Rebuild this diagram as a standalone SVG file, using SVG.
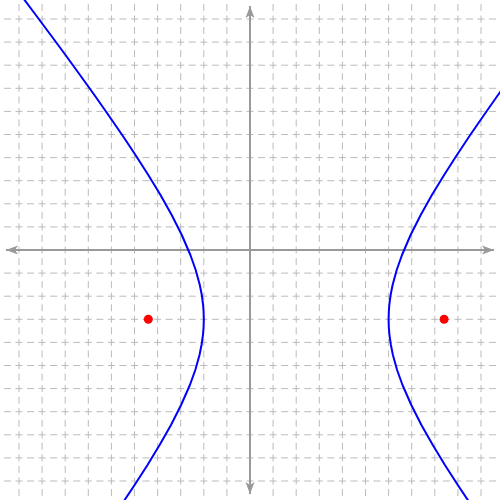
<svg xmlns="http://www.w3.org/2000/svg" width="500" height="500" viewBox="0 0 500 500">
<style>
.grid line{stroke:#bbbbbb;stroke-width:1;stroke-dasharray:7 4.55}
.axis{stroke:#999999;stroke-width:2;fill:none}
.curve{stroke:#0000ff;stroke-width:2;fill:none;stroke-linejoin:round}
.focus{fill:#ff0000}
</style>
<defs>
<marker id="arr" markerUnits="userSpaceOnUse" markerWidth="16" markerHeight="12" viewBox="-13 -6 16 12" refX="0" refY="0" orient="auto">
<path d="M0,0 L-12,-4.5 L-9,0 L-12,4.5 Z" fill="#999999"/>
</marker>
</defs>
<rect width="500" height="500" fill="#ffffff"/>
<g class="grid" id="grid">
<g id="vgrid">
<line x1="19" y1="-7.6" x2="19" y2="510"/>
<line x1="42.1" y1="-7.6" x2="42.1" y2="510"/>
<line x1="65.2" y1="-7.6" x2="65.2" y2="510"/>
<line x1="88.3" y1="-7.6" x2="88.3" y2="510"/>
<line x1="111.4" y1="-7.6" x2="111.4" y2="510"/>
<line x1="134.5" y1="-7.6" x2="134.5" y2="510"/>
<line x1="157.6" y1="-7.6" x2="157.6" y2="510"/>
<line x1="180.7" y1="-7.6" x2="180.7" y2="510"/>
<line x1="203.8" y1="-7.6" x2="203.8" y2="510"/>
<line x1="226.9" y1="-7.6" x2="226.9" y2="510"/>
<line x1="273.1" y1="-7.6" x2="273.1" y2="510"/>
<line x1="296.2" y1="-7.6" x2="296.2" y2="510"/>
<line x1="319.3" y1="-7.6" x2="319.3" y2="510"/>
<line x1="342.4" y1="-7.6" x2="342.4" y2="510"/>
<line x1="365.5" y1="-7.6" x2="365.5" y2="510"/>
<line x1="388.6" y1="-7.6" x2="388.6" y2="510"/>
<line x1="411.7" y1="-7.6" x2="411.7" y2="510"/>
<line x1="434.8" y1="-7.6" x2="434.8" y2="510"/>
<line x1="457.9" y1="-7.6" x2="457.9" y2="510"/>
<line x1="481" y1="-7.6" x2="481" y2="510"/>
</g>
<g id="hgrid">
<line y1="19" x1="-7.6" y2="19" x2="510"/>
<line y1="42.1" x1="-7.6" y2="42.1" x2="510"/>
<line y1="65.2" x1="-7.6" y2="65.2" x2="510"/>
<line y1="88.3" x1="-7.6" y2="88.3" x2="510"/>
<line y1="111.4" x1="-7.6" y2="111.4" x2="510"/>
<line y1="134.5" x1="-7.6" y2="134.5" x2="510"/>
<line y1="157.6" x1="-7.6" y2="157.6" x2="510"/>
<line y1="180.7" x1="-7.6" y2="180.7" x2="510"/>
<line y1="203.8" x1="-7.6" y2="203.8" x2="510"/>
<line y1="226.9" x1="-7.6" y2="226.9" x2="510"/>
<line y1="273.1" x1="-7.6" y2="273.1" x2="510"/>
<line y1="296.2" x1="-7.6" y2="296.2" x2="510"/>
<line y1="319.3" x1="-7.6" y2="319.3" x2="510"/>
<line y1="342.4" x1="-7.6" y2="342.4" x2="510"/>
<line y1="365.5" x1="-7.6" y2="365.5" x2="510"/>
<line y1="388.6" x1="-7.6" y2="388.6" x2="510"/>
<line y1="411.7" x1="-7.6" y2="411.7" x2="510"/>
<line y1="434.8" x1="-7.6" y2="434.8" x2="510"/>
<line y1="457.9" x1="-7.6" y2="457.9" x2="510"/>
<line y1="481" x1="-7.6" y2="481" x2="510"/>
</g>
</g>
<g id="axes">
<path class="axis" d="M250,250 L494,250" marker-end="url(#arr)"/>
<path class="axis" d="M250,250 L6,250" marker-end="url(#arr)"/>
<path class="axis" d="M250,250 L250,6" marker-end="url(#arr)"/>
<path class="axis" d="M250,250 L250,494" marker-end="url(#arr)"/>
</g>
<g id="hyperbola">
<polyline id="left-branch" class="curve" points="20.8,-5 35.8,15 50.7,35 65.5,55 80,75 94.4,95 108.4,115 122.2,135 135.5,155 148.3,175 160.5,195 171.7,215 181.8,235 190.4,255 195.7,270 199.8,285 201.8,295 203.1,305 203.6,312 203.8,319.3 203.6,327 202.95,335 201.5,345 199.5,355 195.3,370 189.9,385 181.1,405 171,425 159.6,445 147.5,465 134.6,485 121.25,505"/>
<polyline id="right-branch" class="curve" points="571.6,-5 556.6,15 541.7,35 526.9,55 512.4,75 498,95 484,115 470.2,135 456.9,155 444.1,175 431.9,195 420.7,215 410.6,235 402,255 396.7,270 392.6,285 390.6,295 389.3,305 388.8,312 388.6,319.3 388.8,327 389.45,335 390.9,345 392.9,355 397.1,370 402.5,385 411.3,405 421.4,425 432.8,445 444.9,465 457.8,485 471.15,505"/>
</g>
<g id="foci">
<circle id="focus-left" class="focus" cx="148.3" cy="319.3" r="4.5"/>
<circle id="focus-right" class="focus" cx="444.1" cy="319.3" r="4.5"/>
</g>
</svg>
